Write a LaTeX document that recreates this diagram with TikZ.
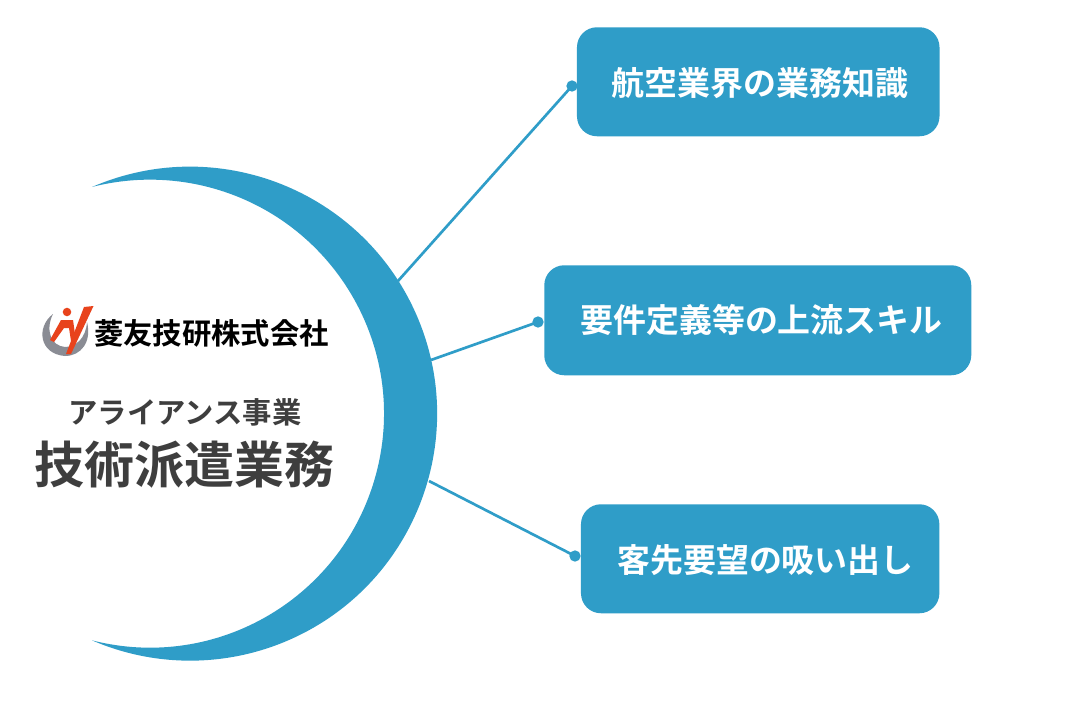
\documentclass[tikz,border=0pt]{standalone}
\usepackage{fontspec}
\setmainfont{Noto Sans CJK JP}
\newfontfamily\cjkb[Renderer=OpenType]{Noto Sans CJK JP Bold}
\definecolor{teal1}{HTML}{2F9DC8}
\definecolor{ink}{HTML}{3E3E3E}
\definecolor{logored}{HTML}{E8431C}
\definecolor{logogray}{HTML}{8A8C94}
\tikzset{
 x=0.75pt,y=-0.75pt,
 card/.style={fill=teal1,rounded corners=15pt,inner sep=0pt,anchor=north west},
 cardtext/.style={text=white,font=\cjkb\fontsize{24.7pt}{28pt}\selectfont,inner sep=0pt},
 link/.style={draw=teal1,line width=2pt},
 dot/.style={circle,fill=teal1,minimum size=8.5pt,inner sep=0pt}
}
\begin{document}
\begin{tikzpicture}
\useasboundingbox (0,0) rectangle (1088,720);
\fill[white] (0,0) rectangle (1088,720);
% crescent
\fill[teal1] (92,187) arc[start angle=113.4,end angle=-113.4,radius=185.25pt]
  arc[start angle=-104.35,end angle=104.35,radius=175.5pt] -- cycle;
% boxes
\node[card,minimum width=271.9pt,minimum height=81.75pt] (b1) at (576.7,27) {};
\node[card,minimum width=320.25pt,minimum height=82.5pt] (b2) at (544,265) {};
\node[card,minimum width=268.8pt,minimum height=81.75pt] (b3) at (580.7,504) {};
\node[cardtext] (t1) at (760,83) {航空業界の業務知識};
\node[cardtext] (t2) at (761.5,320) {要件定義等の上流スキル};
\node[cardtext] (t3) at (765.5,560) {客先要望の吸い出し};
\node[dot] (d1) at (572,86) {};
\node[dot] (d2) at (538,322) {};
\node[dot] (d3) at (575,556) {};
\coordinate (c1) at (398,281);
\coordinate (c2) at (431,360);
\coordinate (c3) at (429,481);
\draw[link] (c1) -- (d1.center);
\draw[link] (c2) -- (d2.center);
\draw[link] (c3) -- (d3.center);
% logo
\fill[logogray] (53,314) .. controls (36,327) and (39,354) .. (65,356) .. controls (81,356) and (92,342) .. (87,322) .. controls (86,338) and (76,347) .. (65,347) .. controls (51,346) and (45,330) .. (53,314) -- cycle;
\fill[logored] (67,312) circle[radius=3.2pt];
\fill[logored] (93.5,306) -- (84,307) -- (66,354) -- (71,354) -- cycle;
\fill[logored] (50,340) -- (61,320) -- (73,320) -- (76,341) -- (71,341) -- (69,328) -- (64,328) -- (54,342) -- cycle;
\node[inner sep=0pt,text=black,font=\cjkb\fontsize{22pt}{26pt}\selectfont] (logo) at (211.5,333) {菱友技研株式会社};
% centre text
\node[inner sep=0pt,text=ink,font=\cjkb\fontsize{22pt}{26pt}\selectfont] (sub) at (185,412) {アライアンス事業};
\node[inner sep=0pt,text=ink,font=\cjkb\fontsize{37.5pt}{44pt}\selectfont] (main) at (184,465) {技術派遣業務};
\end{tikzpicture}
\end{document}
